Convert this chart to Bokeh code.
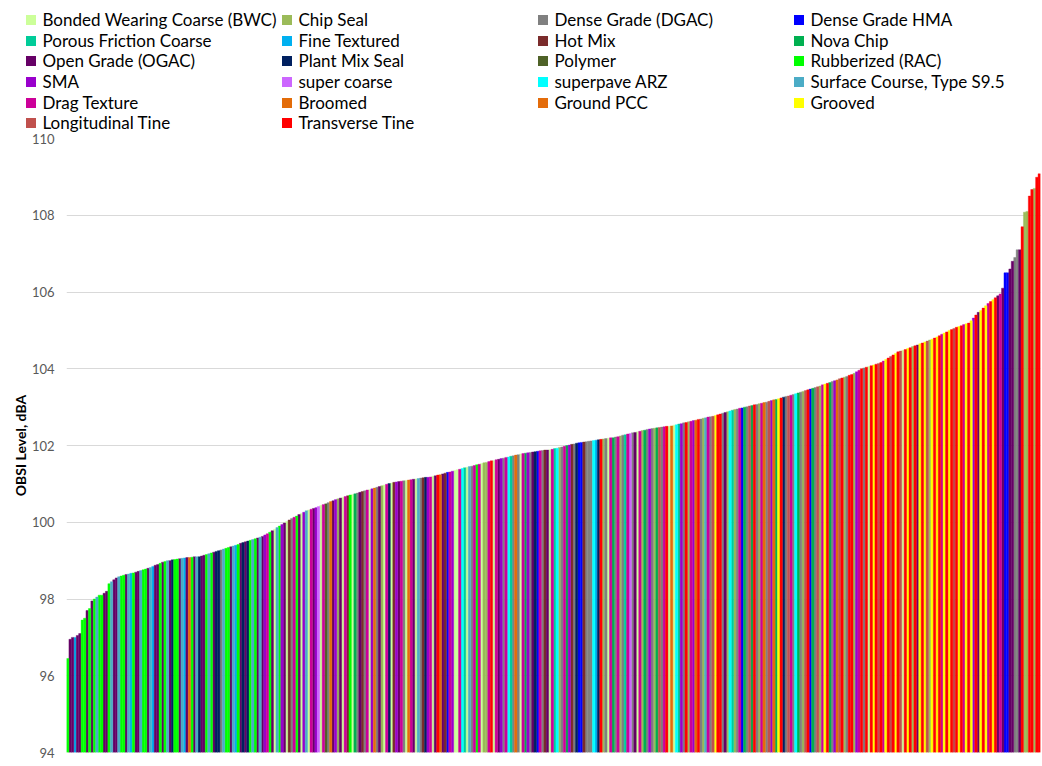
from bokeh.plotting import figure
from bokeh.models import Range1d, FixedTicker, Legend, LegendItem, ColumnDataSource
from bokeh.embed import file_html
from bokeh.resources import INLINE

# Surface types (legend order, row by row)
categories = [
    "Bonded Wearing Coarse (BWC)", "Chip Seal", "Dense Grade (DGAC)", "Dense Grade HMA",
    "Porous Friction Coarse", "Fine Textured", "Hot Mix", "Nova Chip",
    "Open Grade (OGAC)", "Plant Mix Seal", "Polymer", "Rubberized (RAC)",
    "SMA", "super coarse", "superpave ARZ", "Surface Course, Type S9.5",
    "Drag Texture", "Broomed", "Ground PCC", "Grooved",
    "Longitudinal Tine", "Transverse Tine",
]
colors = [
    "#CCFF99", "#9BBB59", "#808080", "#0000FF",
    "#00CC99", "#00B0F0", "#7B2C2C", "#00B050",
    "#660066", "#002060", "#4F6228", "#00FF00",
    "#9900CC", "#CC66FF", "#00FFFF", "#4BACC6",
    "#CC0099", "#E36C09", "#E46C0A", "#FFFF00",
    "#C0504D", "#FF0000",
]
# one letter per category, same order as above
category_codes = "ABCDEFGHIJKLMNOPQRSTUV"

# Surface type of each sorted measurement (one letter per bar)
surface_codes = "".join([
    "LIIFIILLILILPLLIILPI", "IPLLIPFLIIPLLIPFIILI", "LPIJLLIPFIRLIPJIILPL", "IJJCPLLIPFLIJIJLPLIP",
    "IMQLIAPLMIAGCQLIAMPA", "QIMNAQKCRIMBIAQGLAHC", "IGCQAMRCIBAQJAGMIQCA", "RQIAPCGJMQAIVRIGDQMA",
    "AQOEAPCQLQABBQVAQIMC", "QOECRCAQHMCIJDQCGIAQ", "EOBCQHMGCJDDGCCCOFJV", "BCAQHCQBCEQNCIAQBHCM",
    "CBHUCQVARAOEMCVBQMRV", "CBPQCUTVVCIBOEBCQDHC", "UHVCBQSCUMRHTVJCUQCO", "HCBUVDHCUBQTVHCMRUVB",
    "CV", "VBMQVCVAVTVUVQTVUV", "TVUAVTVBVITVTUBTVTVQ", "TVTVUVTVQTVTMVITVTQV", "TVIQIDDIICCIVBBVVBVV",
])

# OBSI level of each measurement, dBA (sorted ascending)
obsi = [
    96.45, 96.95, 97.0, 97.0, 97.05, 97.1, 97.45, 97.5, 97.7, 97.75, 97.95, 98.0, 98.05, 98.1, 98.1, 98.15, 98.2, 98.4, 98.45, 98.5,
    98.55, 98.58, 98.6, 98.62, 98.64, 98.65, 98.67, 98.68, 98.7, 98.72, 98.74, 98.76, 98.78, 98.8, 98.82, 98.85, 98.88, 98.9, 98.93, 98.96,
    98.98, 99.0, 99.0, 99.02, 99.03, 99.04, 99.05, 99.06, 99.07, 99.08, 99.08, 99.09, 99.1, 99.1, 99.1, 99.12, 99.14, 99.16, 99.18, 99.2,
    99.22, 99.24, 99.26, 99.28, 99.3, 99.32, 99.34, 99.36, 99.38, 99.4, 99.42, 99.45, 99.47, 99.49, 99.51, 99.53, 99.55, 99.57, 99.59, 99.61,
    99.63, 99.67, 99.7, 99.74, 99.78, 99.82, 99.86, 99.9, 99.94, 99.98, 100.02, 100.06, 100.1, 100.13, 100.16, 100.2, 100.23, 100.26, 100.3, 100.32,
    100.34, 100.36, 100.38, 100.41, 100.44, 100.46, 100.48, 100.51, 100.54, 100.56, 100.59, 100.61, 100.63, 100.65, 100.67, 100.69, 100.71, 100.72, 100.74, 100.76,
    100.78, 100.8, 100.82, 100.84, 100.85, 100.87, 100.89, 100.91, 100.93, 100.95, 100.97, 100.99, 101.01, 101.02, 101.04, 101.05, 101.06, 101.07, 101.08, 101.09,
    101.1, 101.11, 101.12, 101.13, 101.14, 101.15, 101.16, 101.17, 101.17, 101.18, 101.2, 101.21, 101.23, 101.24, 101.26, 101.28, 101.3, 101.31, 101.33, 101.35,
    101.37, 101.38, 101.4, 101.42, 101.43, 101.45, 101.46, 101.48, 101.5, 101.51, 101.53, 101.55, 101.56, 101.58, 101.6, 101.61, 101.63, 101.64, 101.66, 101.67,
    101.69, 101.7, 101.72, 101.73, 101.75, 101.76, 101.78, 101.79, 101.8, 101.81, 101.82, 101.83, 101.84, 101.85, 101.86, 101.87, 101.88, 101.88, 101.89, 101.9,
    101.92, 101.93, 101.95, 101.96, 101.98, 102.0, 102.01, 102.03, 102.04, 102.06, 102.07, 102.08, 102.09, 102.1, 102.11, 102.12, 102.13, 102.14, 102.15, 102.16,
    102.17, 102.18, 102.19, 102.2, 102.2, 102.22, 102.23, 102.25, 102.27, 102.28, 102.3, 102.31, 102.33, 102.34, 102.36, 102.37, 102.39, 102.4, 102.42, 102.43,
    102.44, 102.45, 102.46, 102.47, 102.48, 102.49, 102.5, 102.5, 102.51, 102.53, 102.54, 102.56, 102.57, 102.59, 102.6, 102.62, 102.63, 102.65, 102.66, 102.68,
    102.69, 102.71, 102.72, 102.74, 102.75, 102.76, 102.78, 102.8, 102.82, 102.84, 102.86, 102.88, 102.9, 102.92, 102.94, 102.95, 102.97, 102.98, 103.0, 103.01,
    103.03, 103.04, 103.06, 103.07, 103.09, 103.1, 103.12, 103.13, 103.15, 103.17, 103.19, 103.2, 103.22, 103.24, 103.26, 103.28, 103.29, 103.31, 103.33, 103.35,
    103.37, 103.39, 103.41, 103.43, 103.45, 103.47, 103.49, 103.51, 103.53, 103.55, 103.58, 103.6, 103.62, 103.64, 103.67, 103.69, 103.71, 103.74, 103.76, 103.78,
    103.8, 103.83, 103.85, 103.88, 103.92, 103.96, 104.0, 104.02, 104.04, 104.06, 104.08, 104.1, 104.12, 104.14, 104.16, 104.2, 104.24, 104.28, 104.32, 104.36,
    104.4, 104.44, 104.46, 104.48, 104.5, 104.53, 104.55, 104.58, 104.6, 104.62, 104.65, 104.67, 104.7, 104.72, 104.75, 104.77, 104.8, 104.83, 104.86, 104.9,
    104.93, 104.96, 105.0, 105.02, 105.05, 105.08, 105.1, 105.12, 105.15, 105.17, 105.19, 105.25, 105.32, 105.4, 105.47, 105.52, 105.58, 105.64, 105.7, 105.75,
    105.8, 105.85, 105.9, 105.95, 106.1, 106.5, 106.5, 106.6, 106.8, 106.9, 107.1, 107.1, 107.7, 108.08, 108.1, 108.5, 108.67, 108.7, 108.99, 109.08,
]

y_ticks = [94, 96, 98, 100, 102, 104, 106, 108, 110]
y_title = "OBSI Level, dBA"

surface_type = [categories[category_codes.index(ch)] for ch in surface_codes]
n = len(obsi)

W = 1042
H = 766
LEG_H = 132

# ---- legend strip (its own plot, frame = whole canvas) ----
pl = figure(width=W, height=LEG_H, output_backend="svg", toolbar_location=None,
            x_axis_type=None, y_axis_type=None,
            x_range=Range1d(-1, 0), y_range=Range1d(-1, 0),
            min_border=0, min_border_left=0, min_border_right=0,
            min_border_top=0, min_border_bottom=0)
pl.grid.visible = False
pl.outline_line_color = None

# ---- main chart ----
p = figure(width=W, height=H - LEG_H, output_backend="svg", toolbar_location=None,
           x_range=Range1d(-0.5, n - 0.5), y_range=Range1d(y_ticks[0], y_ticks[-1]),
           min_border_left=66, min_border_right=2, min_border_top=6, min_border_bottom=14)
p.outline_line_color = None
p.xaxis.visible = False
p.xgrid.visible = False
p.ygrid.ticker = FixedTicker(ticks=y_ticks)
p.ygrid.grid_line_color = "#D9D9D9"
p.yaxis.ticker = FixedTicker(ticks=y_ticks)
p.yaxis.axis_line_color = None
p.yaxis.major_tick_line_color = None
p.yaxis.minor_tick_line_color = None
p.yaxis.major_tick_out = 0
p.yaxis.major_tick_in = 0
p.yaxis.minor_tick_out = 0
p.yaxis.major_label_standoff = 12
p.yaxis.major_label_text_font = "Lato"
p.yaxis.major_label_text_font_size = "13px"
p.yaxis.major_label_text_color = "#595959"
p.yaxis.axis_label = y_title
p.yaxis.axis_label_text_font = "Lato"
p.yaxis.axis_label_text_font_size = "14px"
p.yaxis.axis_label_text_font_style = "bold"
p.yaxis.axis_label_text_color = "#000000"
p.yaxis.axis_label_standoff = 0

col_x = [17.5, 273.5, 529.5, 785.5]
row_top = 6.8
row_step = 20.7
for k, (name, col) in enumerate(zip(categories, colors)):
    idx = [i for i, s in enumerate(surface_type) if s == name]
    src = ColumnDataSource(dict(x=idx, top=[obsi[i] for i in idx]))
    p.vbar(x="x", top="top", bottom=y_ticks[0], width=1.0, source=src,
           fill_color=col, line_color=col, line_width=0.4)
    # square swatch for the legend (hidden in the legend strip itself)
    sw = pl.scatter(x="x", y="top", source=src, marker="square", size=10,
                    fill_color=col, line_color=None, visible=False)
    row, colno = divmod(k, 4)
    leg = Legend(items=[LegendItem(label=name, renderers=[sw])],
                 location=(col_x[colno], LEG_H - (row_top + 25) - row_step * row),
                 glyph_width=25, glyph_height=25, label_height=25, label_standoff=-3,
                 padding=0, margin=0, spacing=0, border_line_color=None,
                 background_fill_alpha=0, inactive_fill_alpha=0,
                 label_text_font="Lato", label_text_font_size="17px",
                 label_text_color="#000000")
    pl.add_layout(leg)

open("out.html", "w").write(file_html([pl, p], INLINE))
